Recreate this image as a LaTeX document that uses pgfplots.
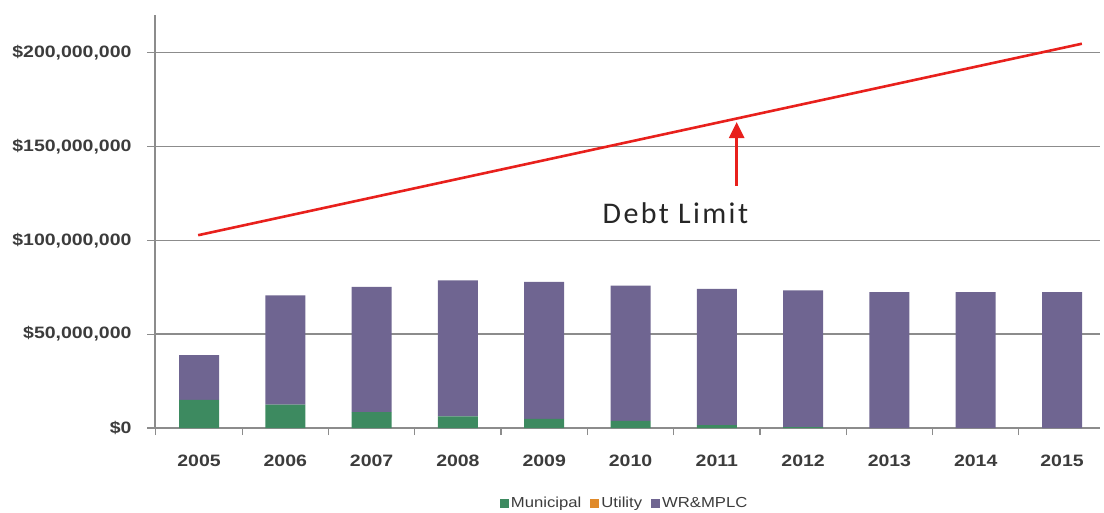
\documentclass[border=0pt]{standalone}
\usepackage{fontspec}
\setmainfont{Liberation Sans}
\newfontfamily\tickfont[FakeStretch=1.18]{Liberation Sans}
\newfontfamily\legfont[FakeStretch=1.15]{Liberation Sans}
\newfontfamily\annfont[LetterSpace=8]{Carlito}
\usepackage{pgfplots}
\pgfplotsset{compat=1.18}
\usetikzlibrary{arrows.meta}
\definecolor{muni}{RGB}{61,138,96}
\definecolor{util}{RGB}{224,138,42}
\definecolor{wr}{RGB}{111,101,145}
\definecolor{debt}{RGB}{232,32,28}
\definecolor{gridgray}{RGB}{140,140,140}
\definecolor{labgray}{RGB}{60,60,60}
\begin{document}
\begin{tikzpicture}
\useasboundingbox (-155pt,-84pt) rectangle (949pt,428pt);
\begin{axis}[
  at={(0pt,0pt)}, anchor=south west,
  scale only axis, width=945pt, height=413pt,
  xmin=-0.51, xmax=10.44, ymin=0, ymax=220,
  ybar stacked, bar width=40pt,
  axis x line*=bottom, axis y line*=left,
  axis line style={gridgray, line width=1.3pt, -},
  xtick={0,...,10},
  xticklabels={2005,2006,2007,2008,2009,2010,2011,2012,2013,2014,2015},
  minor xtick={-0.5,0.5,...,10.5},
  major x tick style={draw=none},
  minor x tick style={gridgray, line width=1.2pt},
  minor tick length=7pt,
  tick align=outside,
  ytick={0,50,100,150,200},
  yticklabels={{\$0},{\$50,000,000},{\$100,000,000},{\$150,000,000},{\$200,000,000}},
  y tick style={gridgray, line width=1.2pt},
  major tick length=8pt,
  ymajorgrids, grid style={gridgray, line width=1.3pt},
  /pgf/number format/assume math mode=true,
  ticklabel style={font=\tickfont\bfseries\fontsize{16.5}{18}\selectfont, text=labgray},
  xticklabel style={yshift=-15pt},
  yticklabel style={xshift=-12pt},
  legend style={at={(0.497,-0.182)}, anchor=center, draw=none, fill=none,
    font=\legfont\fontsize{14.5}{15}\selectfont, text=labgray, legend columns=3,
    /tikz/every even column/.append style={column sep=7pt}},
  legend image code/.code={\fill[#1] (0pt,-4.5pt) rectangle (9pt,4.5pt);},
]
\addplot[fill=muni, draw=none] coordinates {(0,15) (1,12.5) (2,8.5) (3,6.2) (4,4.8) (5,3.8) (6,1.5) (7,0.5) (8,0) (9,0) (10,0)};
\addlegendentry{Municipal}
\addplot[fill=util, draw=none] coordinates {(0,0) (1,0) (2,0) (3,0) (4,0) (5,0) (6,0) (7,0) (8,0) (9,0) (10,0)};
\addlegendentry{Utility}
\addplot[fill=wr, draw=none] coordinates {(0,23.8) (1,58.2) (2,66.7) (3,72.5) (4,73.0) (5,72.1) (6,72.6) (7,72.8) (8,72.4) (9,72.4) (10,72.4)};
\addlegendentry{WR\&MPLC}
\addplot[debt, line width=2.6pt, sharp plot, stack plots=false, forget plot] coordinates {(-0.01,102.7) (10.23,204.7)};
\draw[debt, line width=2.6pt, -{Triangle[width=15pt,length=16pt]}] (axis cs:6.23,129) -- (axis cs:6.23,163);
\node[font=\annfont\fontsize{30}{31}\selectfont, text=black!85] at (axis cs:5.52,114.5) {Debt Limit};
\end{axis}
\end{tikzpicture}
\end{document}
